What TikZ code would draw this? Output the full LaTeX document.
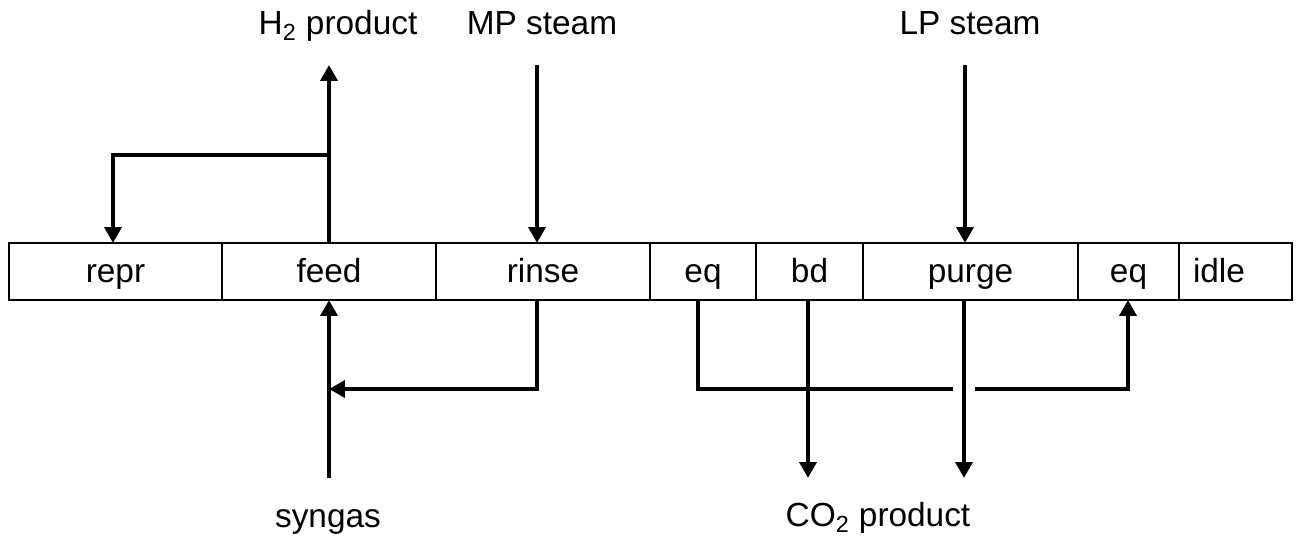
\documentclass[tikz,border=0pt]{standalone}
\usepackage{fontspec}
\setmainfont{Liberation Sans}
\usetikzlibrary{arrows.meta}
\begin{document}
\begin{tikzpicture}[x=0.02cm,y=-0.02cm,
  box/.style={draw, line width=0.6pt, inner sep=0pt, outer sep=0pt,
    minimum height=1.14cm, text height=14.5pt, text depth=2pt,
    font=\fontsize{19}{22}\selectfont},
  flow/.style={line width=2.8pt, -{Triangle[width=9.5pt,length=9pt]}},
  pipe/.style={line width=2.8pt},
  lbl/.style={font=\fontsize{19}{22}\selectfont, anchor=base, inner sep=0pt}]
\useasboundingbox (0,0) rectangle (1296,540);
% cycle steps
\node[box, minimum width=4.26cm] (repr)  at (115.5,271.5) {repr};
\node[box, minimum width=4.28cm] (feed)  at (329,271.5)   {feed};
\node[box, minimum width=4.28cm] (rinse) at (543,271.5)   {rinse};
\node[box, minimum width=2.12cm] (eqa)   at (703,271.5)   {eq};
\node[box, minimum width=2.14cm] (bd)    at (809.5,271.5) {bd};
\node[box, minimum width=4.30cm] (purge) at (970.5,271.5) {purge};
\node[box, minimum width=2.02cm] (eqb)   at (1128.5,271.5) {eq};
\node[box, minimum width=2.26cm, inner xsep=0.28cm, text width=1.70cm, align=left] (idle) at (1235.5,271.5) {idle};
% labels
\node[lbl] (h2)  at (338,35)  {H\textsubscript{2} product};
\node[lbl] (mp)  at (542,35)  {MP steam};
\node[lbl] (lp)  at (970,35)  {LP steam};
\node[lbl] (sg)  at (328,528) {syngas};
\node[lbl] (co2) at (878,527) {CO\textsubscript{2} product};
% coordinates
\coordinate (h2tip) at (329,65);
\coordinate (brL)   at (113,155);
\coordinate (mps)   at (537,65);
\coordinate (lps)   at (965,65);
\coordinate (sgs)   at (329,478);
\coordinate (rn)    at (537,389);
\coordinate (eqA)   at (698,389);
\coordinate (gapL)  at (953,389);
\coordinate (gapR)  at (975,389);
\coordinate (eqB)   at (1128,389);
\coordinate (bdE)   at (808,478);
\coordinate (pgE)   at (964,478);
% connectors
\draw[flow] (feed.north) -- (h2tip);
\draw[flow] (feed.north |- brL) -- (brL) -- (repr.north -| brL);
\draw[flow] (mps) -- (rinse.north -| mps);
\draw[flow] (lps) -- (purge.north -| lps);
\draw[flow] (sgs) -- (feed.south);
\draw[flow] (rinse.south -| rn) -- (rn) -- (feed.south |- rn);
\draw[pipe] (eqa.south -| eqA) -- (eqA) -- (gapL);
\draw[flow] (gapR) -- (eqB) -- (eqb.south -| eqB);
\draw[flow] (bd.south -| bdE) -- (bdE);
\draw[flow] (purge.south -| pgE) -- (pgE);
\end{tikzpicture}
\end{document}
